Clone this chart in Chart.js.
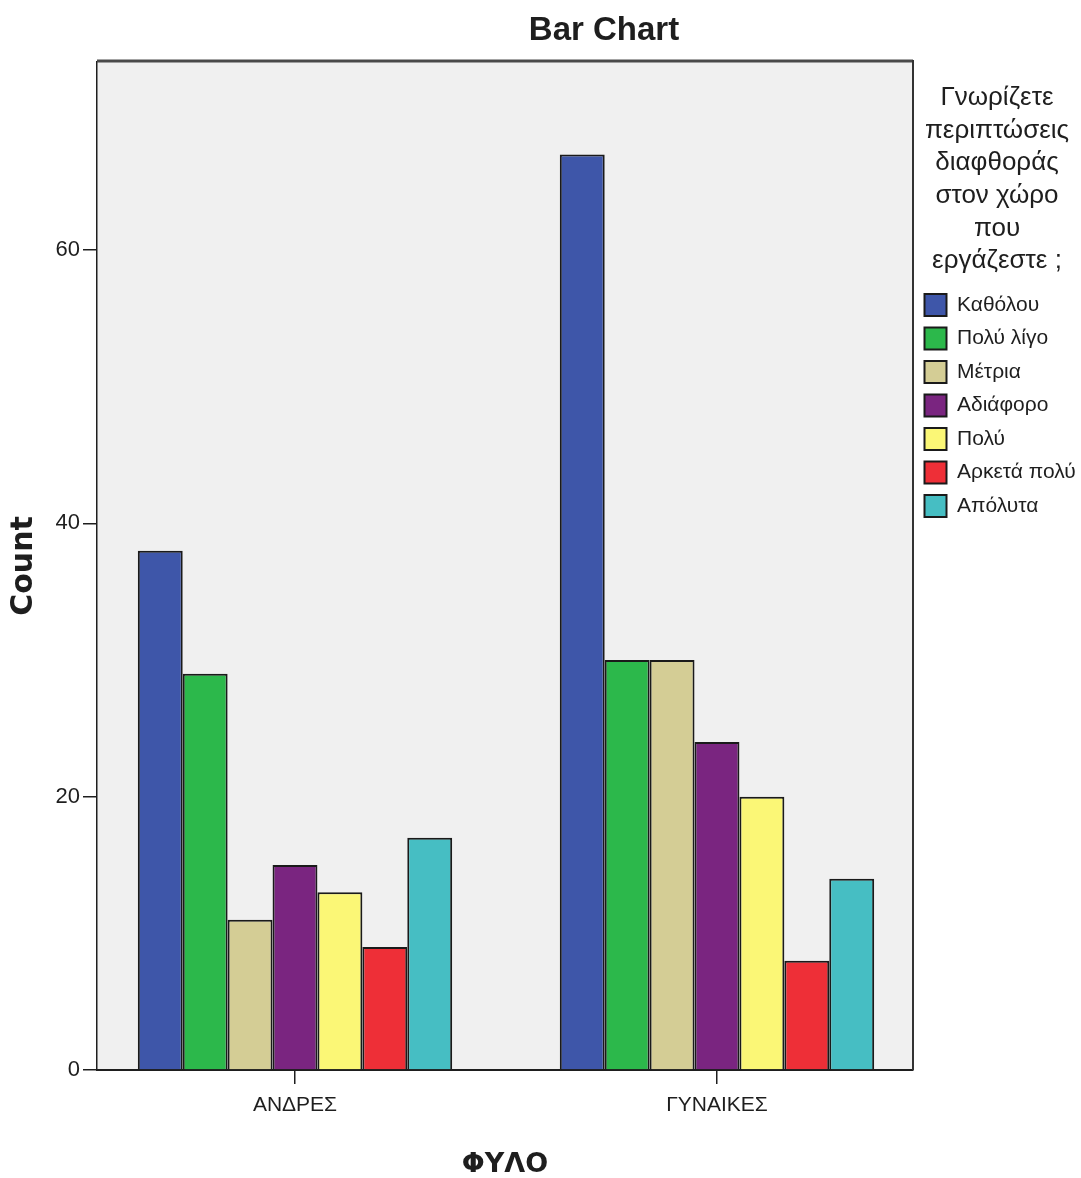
<!DOCTYPE html>
<html>
<head>
<meta charset="utf-8">
<title>Bar Chart</title>
<script src="https://cdn.jsdelivr.net/npm/chart.js@4"></script>
<style>
  html, body { margin: 0; padding: 0; background: #ffffff; }
  canvas { display: block; }
</style>
</head>
<body>
<canvas id="chart" width="1081" height="1178"></canvas>
<script>
// Groups on the x axis (gender)
const groups = ['ΑΝΔΡΕΣ', 'ΓΥΝΑΙΚΕΣ'];

// Answer categories (one bar series each)
const answers = ['Καθόλου', 'Πολύ λίγο', 'Μέτρια', 'Αδιάφορο', 'Πολύ', 'Αρκετά πολύ', 'Απόλυτα'];

// Counts per answer, for each group
const menCounts   = [38, 29, 11, 15, 13, 9, 17];
const womenCounts = [67, 30, 30, 24, 20, 8, 14];

// Count axis tick values
const countTicks = [0, 20, 40, 60];

const answerColors = ['#3e56a9', '#2cb84b', '#d4cd95', '#7a2580', '#fbf776', '#ee2f37', '#46bec3'];

const legendTitle = ['Γνωρίζετε', 'περιπτώσεις', 'διαφθοράς', 'στον χώρο', 'που', 'εργάζεστε ;'];

const SANS = "'Liberation Sans', Arial, sans-serif";
const BOLD_WIDE = "'DejaVu Sans', 'Liberation Sans', sans-serif";
const INK = '#1e1e1e';

// Shaded plot background and the frame on top/right of the plot
const plotFrame = {
  id: 'plotFrame',
  beforeDraw(chart) {
    const { ctx, chartArea: a } = chart;
    ctx.save();
    ctx.fillStyle = '#f0f0f0';
    ctx.fillRect(a.left, a.top, a.right - a.left, a.bottom - a.top);
    ctx.restore();
  },
  afterDraw(chart) {
    const { ctx, chartArea: a } = chart;
    ctx.save();
    ctx.strokeStyle = '#4a4a4a';
    ctx.lineWidth = 3;
    ctx.beginPath();
    ctx.moveTo(a.left, a.top - 1);
    ctx.lineTo(a.right, a.top - 1);
    ctx.stroke();
    ctx.lineWidth = 2;
    ctx.strokeStyle = '#333333';
    ctx.beginPath();
    ctx.moveTo(a.right, a.top - 2);
    ctx.lineTo(a.right, a.bottom);
    ctx.stroke();
    ctx.restore();
  }
};

// Chart heading, drawn over the plot and legend
const heading = {
  id: 'heading',
  afterDraw(chart) {
    const { ctx } = chart;
    ctx.save();
    ctx.fillStyle = INK;
    ctx.font = "bold 33px " + SANS;
    ctx.textAlign = 'center';
    ctx.textBaseline = 'middle';
    ctx.fillText('Bar Chart', 604, 31);
    ctx.restore();
  }
};

// Keep the legend column at a fixed width
const LEGEND_WIDTH = 168;
const legendWidth = {
  id: 'legendWidth',
  beforeLayout(chart) {
    const lg = chart.legend;
    if (lg && !lg.__fixedWidth) {
      const fit = lg.fit;
      lg.fit = function () {
        fit.call(this);
        this.width = LEGEND_WIDTH;
      };
      lg.__fixedWidth = true;
    }
  }
};

const datasets = answers.map((label, i) => ({
  label,
  data: [
    { x: 0, y: menCounts[i] },
    { x: 1, y: womenCounts[i] }
  ],
  backgroundColor: answerColors[i],
  borderColor: '#1a1a1a',
  borderWidth: 2
}));

new Chart(document.getElementById('chart'), {
  type: 'bar',
  data: { datasets },
  plugins: [plotFrame, heading, legendWidth],
  options: {
    responsive: false,
    devicePixelRatio: 1,
    animation: false,
    layout: { padding: { top: 62, right: 0, bottom: 0, left: 0 } },
    datasets: {
      bar: { categoryPercentage: 0.745, barPercentage: 1.0 }
    },
    plugins: {
      tooltip: { enabled: false },
      legend: {
        position: 'right',
        align: 'start',
        title: {
          display: true,
          text: legendTitle,
          position: 'center',
          color: INK,
          font: { family: SANS, size: 26, lineHeight: '32.6px' },
          padding: { top: 23, bottom: 165 }
        },
        labels: {
          boxWidth: 22,
          boxHeight: 22,
          padding: 11.5,
          color: INK,
          font: { family: SANS, size: 21 }
        }
      }
    },
    scales: {
      x: {
        type: 'linear',
        bounds: 'data',
        offset: false,
        min: -0.4692,
        max: 1.4645,
        afterBuildTicks(scale) {
          scale.ticks = groups.map((_, i) => ({ value: i }));
        },
        afterFit(scale) { scale.height = 108; },
        ticks: {
          padding: 9,
          color: INK,
          font: { family: SANS, size: 21 },
          callback: (v) => groups[v] ?? ''
        },
        grid: {
          offset: false,
          drawOnChartArea: false,
          drawTicks: true,
          tickLength: 14,
          color: INK,
          lineWidth: 1.5
        },
        border: { display: true, color: INK, width: 2 },
        title: {
          display: true,
          text: 'ΦΥΛΟ',
          color: INK,
          font: { family: BOLD_WIDE, size: 27, weight: 'bold' },
          padding: { top: 0, bottom: -3 }
        }
      },
      y: {
        bounds: 'data',
        min: 0,
        max: 73.76,
        afterBuildTicks(scale) {
          scale.ticks = countTicks.map(v => ({ value: v }));
        },
        afterFit(scale) { scale.width = 97; },
        ticks: {
          padding: 3,
          color: INK,
          font: { family: SANS, size: 22 }
        },
        grid: {
          drawOnChartArea: false,
          drawTicks: true,
          tickLength: 14,
          color: INK,
          lineWidth: 1.5
        },
        border: { display: true, color: INK, width: 1.5 },
        title: {
          display: true,
          text: 'Count',
          color: INK,
          font: { family: BOLD_WIDE, size: 30, weight: 'bold' },
          padding: { top: 6, bottom: 0 }
        }
      }
    }
  }
});
</script>
</body>
</html>
